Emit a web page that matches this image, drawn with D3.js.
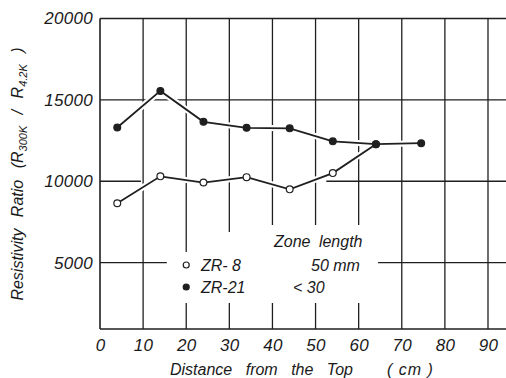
<!DOCTYPE html>
<html>
<head>
<meta charset="utf-8">
<script src="https://cdn.jsdelivr.net/npm/d3@7"></script>
<style>
  body { margin: 0; background: #fff; }
  svg text { font-family: "Liberation Sans", Arial, sans-serif; font-style: italic; fill: #1a1a1a; }
</style>
</head>
<body>
<svg id="chart" width="506" height="378"></svg>
<script>
// distance from the top (cm)
const distance = [4, 14, 24, 34, 44, 54, 64, 74.5];
// resistivity ratio R300K / R4.2K
const zr8 = [8650, 10300, 9920, 10250, 9500, 10500, 12280];
const zr21 = [13300, 15550, 13650, 13280, 13250, 12450, 12280, 12340];
const xTicks = [0, 10, 20, 30, 40, 50, 60, 70, 80, 90];
const yTicks = [5000, 10000, 15000, 20000];

const W = 506, H = 378;
const ink = "#1f1f1f";

const svg = d3.select("#chart");

const x = d3.scaleLinear().domain([0, 90]).range([100, 488]);
const y = d3.scaleLinear().domain([920, 20000]).range([329, 18.5]);

const grid = svg.append("g").attr("stroke", ink).attr("stroke-width", 1.3).attr("fill", "none");

// horizontal grid lines (with the breaks left for the legend)
const hSegs = [
  {v: 5000, from: 0, to: 15.5}, {v: 5000, from: 64.5, to: 100},
  {v: 10000, from: 0, to: 9.5}, {v: 10000, from: 52.5, to: 100},
  {v: 15000, from: 0, to: 100}
];
grid.selectAll(".h").data(hSegs).join("line")
  .attr("x1", d => x(d.from)).attr("x2", d => Math.min(W, x(d.to)))
  .attr("y1", d => y(d.v)).attr("y2", d => y(d.v));

// vertical grid lines; some are broken around the legend
const legendGap = {20: [252, 303], 30: [232, 303], 40: [225, 303], 50: [225, 303], 60: [225, 303]};
xTicks.filter(t => t > 0).forEach(t => {
  const gap = legendGap[t];
  const segs = gap ? [[y.range()[1], gap[0]], [gap[1], y.range()[0]]] : [[y.range()[1], y.range()[0]]];
  segs.forEach(s => {
    grid.append("line").attr("x1", x(t)).attr("x2", x(t)).attr("y1", s[0]).attr("y2", s[1]);
  });
});

// frame: left, top, bottom
const frame = svg.append("g").attr("stroke", ink).attr("stroke-width", 1.6);
frame.append("line").attr("x1", x(0)).attr("x2", x(0)).attr("y1", y(20000)).attr("y2", y.range()[0]);
frame.append("line").attr("x1", x(0)).attr("x2", W).attr("y1", y(20000)).attr("y2", y(20000));
frame.append("line").attr("x1", x(0)).attr("x2", W).attr("y1", y.range()[0]).attr("y2", y.range()[0]);

// series
const series = [
  {name: "ZR-8", vals: zr8, open: true},
  {name: "ZR-21", vals: zr21, open: false}
];
const line = d3.line().x(d => x(d[0])).y(d => y(d[1]));
series.forEach(s => {
  const pts = s.vals.map((v, i) => [distance[i], v]);
  svg.append("path").datum(pts).attr("d", line)
    .attr("fill", "none").attr("stroke", "#fff").attr("stroke-width", 6);
});
series.forEach(s => {
  const pts = s.vals.map((v, i) => [distance[i], v]);
  svg.append("path").datum(pts).attr("d", line)
    .attr("fill", "none").attr("stroke", ink).attr("stroke-width", 1.8);
});
series.forEach(s => {
  const pts = s.vals.map((v, i) => [distance[i], v]);
  svg.append("g").selectAll("circle").data(pts).join("circle")
    .attr("cx", d => x(d[0])).attr("cy", d => y(d[1])).attr("r", 3.4)
    .attr("fill", s.open ? "#fff" : ink).attr("stroke", ink).attr("stroke-width", 1.2);
});

// axes (labels only)
const yAxis = svg.append("g").attr("transform", `translate(${x(0) - 7},0)`)
  .call(d3.axisLeft(y).tickValues(yTicks).tickFormat(d3.format("d")).tickSize(0).tickPadding(0));
const xAxis = svg.append("g").attr("transform", `translate(0,${y.range()[0] + 6})`)
  .call(d3.axisBottom(x).tickValues(xTicks).tickFormat(d3.format("d")).tickSize(0).tickPadding(4));
[yAxis, xAxis].forEach(a => {
  a.select(".domain").remove();
  a.selectAll("text").attr("font-size", 17).attr("font-family", null).style("letter-spacing", "0.3px").attr("fill", ink);
});

// x title
svg.append("text").attr("x", 170).attr("y", 375).attr("font-size", 16)
  .style("word-spacing", "9px").text("Distance from the Top");
svg.append("text").attr("x", 387).attr("y", 375).attr("font-size", 16)
  .style("letter-spacing", "1px").text("( cm )");

// y title
const yt = svg.append("text").attr("transform", "translate(23,174) rotate(-90)")
  .attr("text-anchor", "middle").attr("font-size", 16).style("word-spacing", "7px");
yt.append("tspan").text("Resistivity Ratio (R");
yt.append("tspan").attr("font-size", 11).attr("dy", 4).text("300K");
yt.append("tspan").attr("dy", -4).text(" / R");
yt.append("tspan").attr("font-size", 11).attr("dy", 4).text("4.2K");
yt.append("tspan").attr("dy", -4).text(" )");

// legend
const leg = svg.append("g").attr("font-size", 16);
leg.append("text").attr("x", 274).attr("y", 247).style("word-spacing", "4px").text("Zone length");
series.forEach((s, i) => {
  const ly = 265 + i * 22;
  leg.append("circle").attr("cx", x(20)).attr("cy", ly).attr("r", 3)
    .attr("fill", s.open ? "#fff" : ink).attr("stroke", ink).attr("stroke-width", 1.2);
  leg.append("text").attr("x", 201).attr("y", ly + 5.5).text(i === 0 ? "ZR- 8" : "ZR-21");
});
leg.append("text").attr("x", 311).attr("y", 270.5).text("50 mm");
leg.append("text").attr("x", 293).attr("y", 292.5).text("< 30");
</script>
</body>
</html>
